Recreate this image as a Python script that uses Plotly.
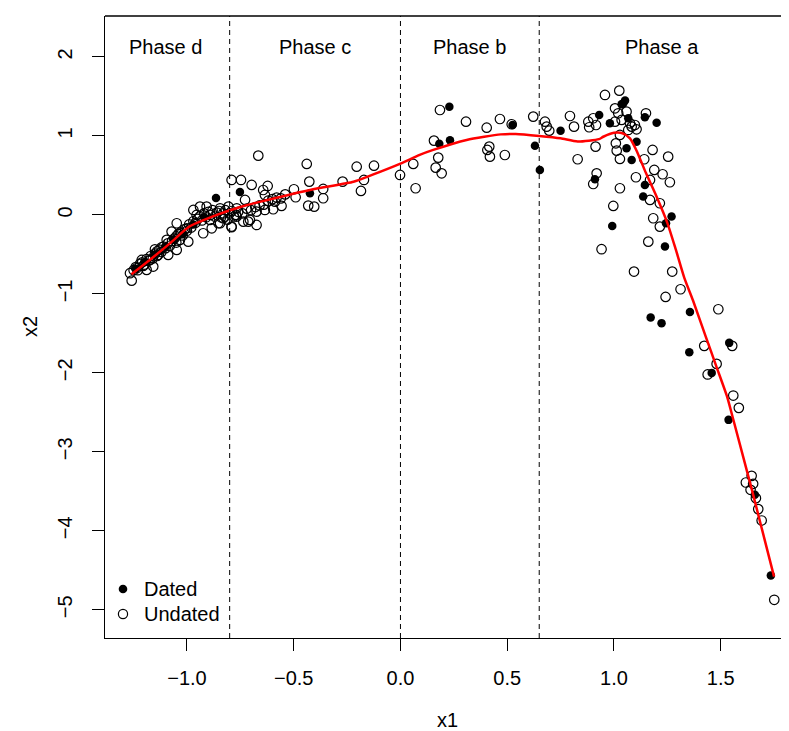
import plotly.graph_objects as go

# ---- data ----
dated_x = [-0.864, -0.752, -0.424, 0.229, 0.182, 0.232, 0.525, 0.63, 0.653, 0.75,
           0.911, 0.931, 1.044, 1.052, 1.036, 0.981, 1.067, 1.145, 1.2, 1.106,
           1.059, 1.083, 1.145, 1.137, 1.27, 1.244, 0.992, 1.239, 1.356, 1.172,
           1.223, 1.353, 1.54, 1.458, 1.537, 1.66, 1.735,
           -1.24, -1.20, -1.15, -1.10, -1.06, -1.02, -0.97, -0.92]
dated_y = [0.215, 0.29, 0.275, 1.37, 0.90, 0.945, 1.14, 0.877, 0.57, 1.067,
           0.452, 1.266, 1.414, 1.45, 1.40, 1.16, 1.224, 1.237, 1.168, 0.928,
           0.844, 0.696, 0.38, 0.232, -0.02, -0.105, -0.139, -0.40, -1.23, -1.30,
           -1.37, -1.74, -1.62, -2.0, -2.595, -3.544, -4.566,
           -0.68, -0.60, -0.50, -0.40, -0.31, -0.24, -0.12, -0.03]

undated_x = [
    # phase d / c border region
    -0.666, -0.791, -0.747, -0.697, -0.643, -0.622, -0.635, -0.728, -0.674, -0.635,
    -0.596, -0.557, -0.588, -0.705, -0.674, -0.791, -0.822, -0.767, -0.736, -0.845,
    -0.439, -0.427, -0.499, -0.491, -0.362, -0.362, -0.432, -0.404, -0.271, -0.205,
    -0.124, -0.171, -0.185, -0.002, 0.06, 0.071,
    # phase b
    0.185, 0.157, 0.177, 0.165, 0.193, 0.307, 0.404, 0.466, 0.407, 0.416,
    0.419, 0.489, 0.521, 0.622, 0.677, 0.685, 0.697, 0.794, 0.813, 0.83,
    0.88, 0.884, 0.903, 0.914, 0.919, 0.903,
    # phase a
    0.916, 0.958, 1.025, 1.005, 1.02, 1.059, 1.036, 1.005, 1.075, 1.083,
    1.098, 1.106, 1.067, 1.15, 1.009, 1.028, 1.013, 1.028, 1.142, 1.181,
    1.254, 1.189, 1.228, 1.103, 1.169, 1.262, 1.028, 1.169, 1.215, 0.997,
    1.184, 1.215, 1.161, 0.942, 1.094, 1.273, 1.312, 1.242, 1.489, 1.423,
    1.554, 1.481, 1.439, 1.559, 1.585, 1.645, 1.618, 1.652, 1.64, 1.665,
    1.676, 1.692, 1.751,
    # dense cluster, phase d
    -1.259, -1.267, -1.236, -1.205, -1.158, -1.173, -1.15, -1.119, -1.088, -1.135,
    -1.072, -1.048, -1.033, -0.994, -1.001, -0.97, -0.939, -0.908, -0.955, -0.924,
    -0.884, -0.892, -0.853, -0.83, -0.791, -0.845, -0.806, -0.767, -0.713, -1.048,
    -1.025, -1.095, -1.212, -1.189,
    -1.25, -1.24, -1.23, -1.22, -1.21, -1.20, -1.19, -1.18, -1.17, -1.16,
    -1.15, -1.14, -1.14, -1.13, -1.12, -1.11, -1.10, -1.09, -1.08, -1.07,
    -1.06, -1.05, -1.05, -1.04, -1.03, -1.02, -1.01, -1.00, -0.99, -0.98,
    -0.97, -0.96, -0.95, -0.94, -0.93, -0.92, -0.91, -0.90, -0.89, -0.88,
    -0.87, -0.86, -0.85, -0.84, -0.83, -0.82, -0.81, -0.80, -0.79, -0.78,
    -0.77, -0.76, -0.74, -0.72, -0.70, -0.68, -0.66, -0.64, -0.62, -0.60,
    -0.58, -0.56, -0.54]
undated_y = [
    0.751, 0.443, 0.443, 0.38, 0.316, 0.367, 0.253, 0.19, 0.042, 0.063,
    0.072, 0.114, 0.168, -0.063, -0.127, -0.156, -0.021, -0.021, -0.085, -0.105,
    0.646, 0.422, 0.325, 0.224, 0.329, 0.211, 0.118, 0.105, 0.422, 0.611,
    0.624, 0.443, 0.304, 0.506, 0.646, 0.338,
    1.329, 0.941, 0.726, 0.599, 0.527, 1.181, 1.105, 1.215, 0.823, 0.865,
    0.738, 0.759, 1.148, 1.245, 1.181, 1.118, 1.067, 1.253, 1.118, 0.705,
    1.181, 1.11, 1.224, 0.865, 0.527, 0.392,
    1.139, 1.519, 1.574, 1.35, 1.287, 1.308, 1.203, 1.181, 1.16, 1.118,
    1.139, 1.084, 1.076, 1.287, 0.907, 1.013, 0.814, 0.709, 0.705, 0.823,
    0.738, 0.57, 0.515, 0.477, 0.443, 0.414, 0.338, 0.19, 0.148, 0.114,
    -0.042, -0.148, -0.338, -0.434, -0.717, -0.717, -0.941, -1.038, -1.194, -1.658,
    -1.658, -1.886, -2.02, -2.287, -2.443, -3.304, -3.388, -3.405, -3.481, -3.586,
    -3.725, -3.869, -4.873,
    -0.832, -0.738, -0.675, -0.646, -0.654, -0.57, -0.435, -0.409, -0.506, -0.506,
    -0.211, -0.105, -0.316, -0.338, -0.169, 0.063, 0.105, 0.105, 0.0, -0.232,
    -0.169, -0.063, -0.105, -0.042, -0.148, 0.084, 0.105, 0.084, -0.085, -0.443,
    -0.232, -0.316, -0.57, -0.696,
    -0.70, -0.66, -0.70, -0.62, -0.60, -0.63, -0.56, -0.58, -0.52, -0.55,
    -0.49, -0.46, -0.52, -0.44, -0.47, -0.40, -0.42, -0.36, -0.39, -0.33,
    -0.30, -0.27, -0.35, -0.24, -0.22, -0.26, -0.18, -0.20, -0.12, -0.16,
    -0.08, -0.10, -0.05, -0.02, -0.07, 0.02, -0.03, 0.04, 0.00, 0.06,
    -0.02, 0.03, 0.05, -0.03, 0.02, 0.06, -0.06, 0.02, 0.05, -0.02,
    0.00, 0.04, 0.02, 0.08, 0.06, 0.10, 0.12, 0.13, 0.18, 0.20,
    0.22, 0.21, 0.26]

curve_x = [-1.26, -1.17, -1.08, -0.99, -0.86, -0.75, -0.66, -0.53, -0.38, -0.22,
           -0.13, 0.0, 0.09, 0.15, 0.31, 0.47, 0.54, 0.65, 0.75, 0.83,
           0.93, 0.95, 1.0, 1.04, 1.075, 1.105, 1.15, 1.2, 1.25, 1.29,
           1.33, 1.37, 1.43, 1.48, 1.53, 1.56, 1.65, 1.75]
curve_y = [-0.75, -0.56, -0.36, -0.15, 0.0, 0.10, 0.165, 0.25, 0.34, 0.42,
           0.51, 0.65, 0.76, 0.82, 0.95, 1.02, 1.025, 1.0, 0.97, 0.93,
           0.96, 0.99, 1.04, 1.035, 0.97, 0.82, 0.53, 0.23, -0.10, -0.44,
           -0.80, -1.08, -1.54, -1.92, -2.30, -2.60, -3.52, -4.58]

phase_bounds = [-0.8, 0.0, 0.65]
phase_labels = ["Phase d", "Phase c", "Phase b", "Phase a"]
phase_label_x = [-1.1, -0.4, 0.325, 1.225]
phase_label_y = 2.13

legend_labels = ["Dated", "Undated"]
legend_filled = [True, False]

x_ticks = [-1.0, -0.5, 0.0, 0.5, 1.0, 1.5]
y_ticks = [-5, -4, -3, -2, -1, 0, 1, 2]

FONT = "Liberation Sans, Arial, Helvetica, sans-serif"

fig = go.Figure()
fig.add_trace(go.Scatter(x=dated_x, y=dated_y, mode="markers", name="Dated",
                         showlegend=False,
                         marker=dict(symbol="circle", size=8.5, color="black")))
fig.add_trace(go.Scatter(x=undated_x, y=undated_y, mode="markers", name="Undated",
                         showlegend=False,
                         marker=dict(symbol="circle-open", size=9.5, color="black",
                                     line=dict(width=1.2, color="black"))))
fig.add_trace(go.Scatter(x=curve_x, y=curve_y, mode="lines", showlegend=False,
                         line=dict(color="red", width=2.5, shape="spline", smoothing=0.6)))

for b in phase_bounds:
    fig.add_shape(type="line", x0=b, x1=b, y0=0, y1=1, xref="x", yref="paper",
                  line=dict(color="black", width=1, dash="5px,4px"))
# top border
fig.add_shape(type="line", x0=0, x1=1, y0=1, y1=1, xref="paper", yref="paper",
              line=dict(color="black", width=1.3))

for lab, lx in zip(phase_labels, phase_label_x):
    fig.add_annotation(x=lx, y=phase_label_y, text=lab, showarrow=False,
                       xref="x", yref="y", font=dict(size=20, color="black", family=FONT))

# legend (bottom-left, inside the plot, no box)
leg_sym_x = 0.0260
leg_txt_x = 0.0535
leg_rows_y = [0.0788, 0.0386]
for lab, filled, ly in zip(legend_labels, legend_filled, leg_rows_y):
    fig.add_shape(type="circle", xref="paper", yref="paper",
                  xsizemode="pixel", ysizemode="pixel",
                  xanchor=leg_sym_x, yanchor=ly,
                  x0=-4.3 if filled else -4.6, x1=4.3 if filled else 4.6,
                  y0=-4.3 if filled else -4.6, y1=4.3 if filled else 4.6,
                  fillcolor="black" if filled else "rgba(0,0,0,0)",
                  line=dict(color="black", width=0 if filled else 1.2))
    fig.add_annotation(text=lab, x=leg_txt_x, y=ly, xref="paper", yref="paper",
                       xanchor="left", yanchor="middle", showarrow=False,
                       font=dict(size=20, color="black", family=FONT))

fig.add_annotation(text="x1", x=0.5, y=0, xref="paper", yref="paper", yshift=-82,
                   xshift=-4, showarrow=False,
                   font=dict(size=20, color="black", family=FONT),
                   xanchor="center", yanchor="middle")
fig.add_annotation(text="x2", x=0, y=0.5, xref="paper", yref="paper", xshift=-75,
                   showarrow=False, textangle=-90,
                   font=dict(size=20, color="black", family=FONT),
                   xanchor="center", yanchor="middle")

fig.update_layout(
    width=789, height=731,
    margin=dict(l=97, r=0, t=8, b=101),
    paper_bgcolor="white", plot_bgcolor="white",
    font=dict(family=FONT, size=20, color="black"),
    showlegend=False,
    xaxis=dict(range=[-1.384, 1.8575], tickvals=x_ticks,
               ticktext=[f"{v:.1f}".replace("-", "\u2212") for v in x_ticks],
               showgrid=False, zeroline=False, showline=True, linecolor="black",
               linewidth=1.3, ticks="outside", ticklen=12, tickwidth=1.3,
               tickcolor="black", ticklabelstandoff=10,
               tickfont=dict(size=20, family=FONT, color="black")),
    yaxis=dict(range=[-5.357, 2.519], tickvals=y_ticks,
               ticktext=[str(v).replace("-", "\u2212") for v in y_ticks],
               showgrid=False, zeroline=False, showline=True, linecolor="black",
               linewidth=1.3, ticks="outside", ticklen=12, tickwidth=1.3,
               tickcolor="black", tickangle=-90, ticklabelstandoff=12,
               tickfont=dict(size=20, family=FONT, color="black")),
)

fig.write_html("out.html")
